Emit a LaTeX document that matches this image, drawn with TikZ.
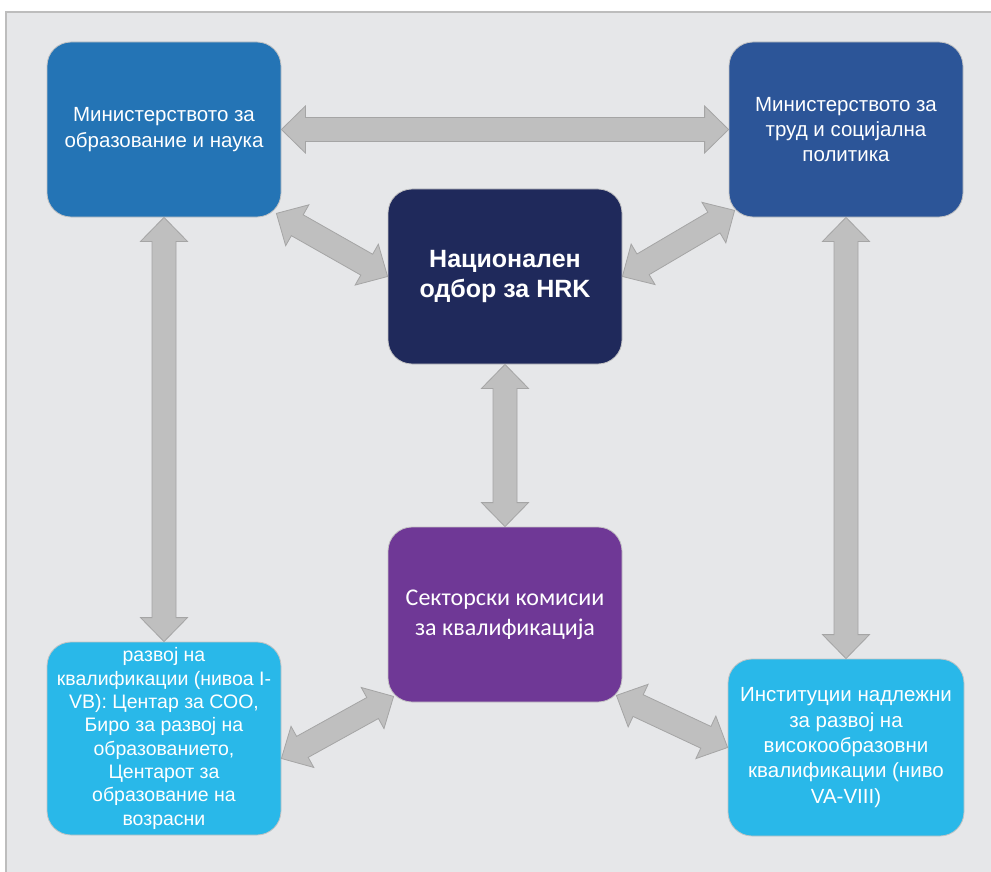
\documentclass[tikz,border=0pt]{standalone}
\usepackage{fontspec}
\setmainfont{Liberation Sans}
\newfontfamily\calfont{Carlito}
\usetikzlibrary{calc}
\definecolor{bgc}{HTML}{E6E7E9}
\definecolor{framec}{HTML}{BDBDBD}
\definecolor{boxline}{HTML}{C4C4C4}
\definecolor{cA}{HTML}{2474B5}
\definecolor{cB}{HTML}{2C5598}
\definecolor{cC}{HTML}{1F295B}
\definecolor{cD}{HTML}{6F3896}
\definecolor{cE}{HTML}{29B8E9}
\definecolor{arrowfill}{HTML}{BFBFBF}
\definecolor{arrowline}{HTML}{A5A5A5}
\newcommand\hl{24pt}
\newcommand\hw{23.5pt}
\newcommand\sw{12pt}
\newcommand\dblarrow[2]{%
  \filldraw[blockarrow] (#1)
   -- ($(#1)!\hl!(#2)!\hw!90:(#2)$)
   -- ($(#1)!\hl!(#2)!\sw!90:(#2)$)
   -- ($(#2)!\hl!(#1)!\sw!-90:(#1)$)
   -- ($(#2)!\hl!(#1)!\hw!-90:(#1)$)
   -- (#2)
   -- ($(#2)!\hl!(#1)!\hw!90:(#1)$)
   -- ($(#2)!\hl!(#1)!\sw!90:(#1)$)
   -- ($(#1)!\hl!(#2)!\sw!-90:(#2)$)
   -- ($(#1)!\hl!(#2)!\hw!-90:(#2)$)
   -- cycle;}
\begin{document}
\begin{tikzpicture}[x=1pt,y=-1pt,
  box/.style={rounded corners=24pt, draw=boxline, line width=0.8pt, text=white,
    align=center, inner sep=0pt, minimum width=234pt, minimum height=175pt},
  blockarrow/.style={fill=arrowfill, draw=arrowline, line width=0.8pt, line join=miter},
  framestyle/.style={draw=framec, line width=1.5pt}]
\useasboundingbox (0,0) rectangle (991,872);
\fill[bgc] (6,12) rectangle (991,872);
\draw[framestyle] (6,872) -- (6,12) -- (991,12);

\node[box, fill=cA, font=\fontsize{20.5}{25.5}\selectfont] (A) at (164,129.5)
  {Министерството за\\образование и наука};
\node[box, fill=cB, font=\fontsize{20.5}{25}\selectfont] (B) at (846,129.5)
  {Министерството за\\труд и социјална\\политика};
\node[box, fill=cC, font=\fontsize{25}{30}\selectfont\bfseries] (C) at (505,276.5)
  {Национален\\одбор за HRK};
\node[box, fill=cD, font=\calfont\fontsize{24}{30}\selectfont] (D) at (505,614.5)
  {Секторски комисии\\за квалификација};
\node[box, fill=cE, minimum height=193pt, font=\fontsize{19.5}{23.3}\selectfont] (E) at (164,738.5)
  {развој на\\квалификации (нивоа I-\\VB): Центар за СОО,\\Биро за развој на\\образованието,\\Центарот за\\образование на\\возрасни};
\node[box, fill=cE, minimum width=236pt, minimum height=177pt, font=\fontsize{20.5}{25.3}\selectfont] (F) at (846,747.5)
  {Институции надлежни\\за развој на\\високообразовни\\квалификации (ниво\\VA-VIII)};

\coordinate (ACa) at ($(A.south east)+(-5,-4)$);
\coordinate (BCb) at ($(B.south west)+(6,-7)$);
\coordinate (DEd) at ($(D.south west)+(6,-6)$);
\coordinate (DEe) at ($(E.east)+(0,20)$);
\coordinate (DFd) at ($(D.south east)+(-6,-7)$);

\dblarrow{A.east}{B.west}
\dblarrow{ACa}{C.west}
\dblarrow{BCb}{C.east}
\dblarrow{A.south}{E.north}
\dblarrow{B.south}{F.north}
\dblarrow{C.south}{D.north}
\dblarrow{DEd}{DEe}
\dblarrow{DFd}{F.west}
\end{tikzpicture}
\end{document}
